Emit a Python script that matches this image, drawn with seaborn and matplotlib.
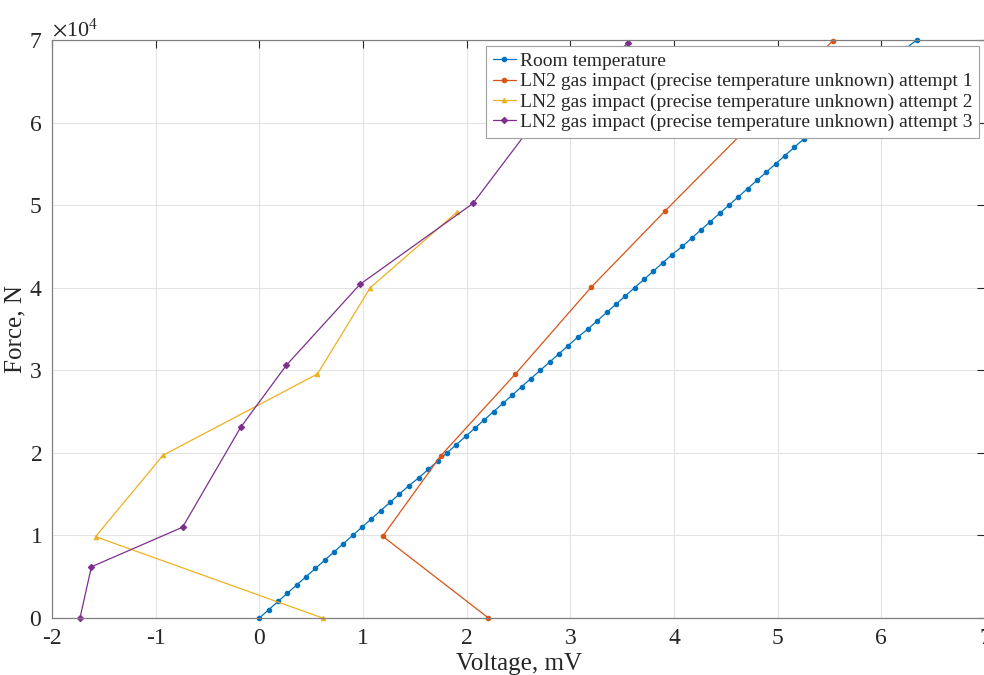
import matplotlib
matplotlib.use("Agg")
import matplotlib.pyplot as plt
import seaborn as sns
from matplotlib.ticker import ScalarFormatter

# Room temperature: one reading every 1000 N
room_force = [0, 1000, 2000, 3000, 4000, 5000, 6000, 7000, 8000, 9000,
              10000, 11000, 12000, 13000, 14000, 15000, 16000, 17000, 18000, 19000,
              20000, 21000, 22000, 23000, 24000, 25000, 26000, 27000, 28000, 29000,
              30000, 31000, 32000, 33000, 34000, 35000, 36000, 37000, 38000, 39000,
              40000, 41000, 42000, 43000, 44000, 45000, 46000, 47000, 48000, 49000,
              50000, 51000, 52000, 53000, 54000, 55000, 56000, 57000, 58000, 59000,
              60000, 61000, 62000, 63000, 64000, 65000, 66000, 67000, 68000, 69000,
              70000]
room_volt = [0.00, 0.09, 0.18, 0.27, 0.36, 0.45, 0.54, 0.63, 0.72, 0.81,
             0.90, 0.99, 1.08, 1.17, 1.26, 1.35, 1.44, 1.54, 1.63, 1.72,
             1.81, 1.90, 1.99, 2.08, 2.17, 2.26, 2.35, 2.44, 2.53, 2.62,
             2.71, 2.80, 2.89, 2.98, 3.07, 3.17, 3.26, 3.35, 3.44, 3.53,
             3.62, 3.71, 3.80, 3.89, 3.98, 4.08, 4.17, 4.26, 4.35, 4.44,
             4.53, 4.62, 4.71, 4.80, 4.89, 4.98, 5.07, 5.16, 5.25, 5.33,
             5.42, 5.51, 5.60, 5.69, 5.78, 5.87, 5.97, 6.06, 6.15, 6.24,
             6.34]

a1_volt = [2.21, 1.19, 1.75, 2.47, 3.20, 3.91, 4.72, 5.53]
a1_force = [0, 9900, 19650, 29550, 40050, 49250, 59500, 69900]

a2_volt = [0.61, -1.58, -0.93, 0.56, 1.07, 1.91]
a2_force = [0, 9850, 19700, 29550, 40000, 49200]

a3_volt = [-1.73, -1.62, -0.74, -0.18, 0.26, 0.97, 2.06, 2.65, 3.56]
a3_force = [0, 6200, 11000, 23100, 30600, 40400, 50200, 60000, 69650]

labels = ["Room temperature",
          "LN2 gas impact (precise temperature unknown) attempt 1",
          "LN2 gas impact (precise temperature unknown) attempt 2",
          "LN2 gas impact (precise temperature unknown) attempt 3"]
colors = ["#0072BD", "#D95319", "#EDB120", "#7E2F8E"]
markers = ["o", "o", "^", "D"]

sns.set_style("white")
plt.rcParams["font.family"] = ["Liberation Serif", "DejaVu Serif"]
plt.rcParams["mathtext.fontset"] = "stix"
plt.rcParams["axes.unicode_minus"] = False

fig = plt.figure(figsize=(9.84, 6.75), dpi=100)
ax = fig.add_axes([52 / 984, 57 / 675, 933 / 984, 578 / 675])

series = [(room_volt, room_force), (a1_volt, a1_force),
          (a2_volt, a2_force), (a3_volt, a3_force)]
for (xv, yv), lab, col, mk in zip(series, labels, colors, markers):
    sns.lineplot(x=xv, y=yv, ax=ax, sort=False, estimator=None, color=col,
                 marker=mk, markersize=3.2, markeredgewidth=0.8,
                 markerfacecolor=col, markeredgecolor=col, linewidth=0.9,
                 label=lab, clip_on=False)

ax.set_xlim(-2, 7)
ax.set_ylim(0, 70000)
ax.set_xticks(range(-2, 8))
ax.set_yticks(range(0, 70001, 10000))
fmt = ScalarFormatter(useMathText=True)
fmt.set_powerlimits((0, 0))
ax.yaxis.set_major_formatter(fmt)
ax.yaxis.get_offset_text().set_fontsize(16)

ax.grid(True, color="#e3e3e3", linewidth=0.8)
ax.tick_params(direction="in", length=6, width=0.8, colors="#262626",
               labelsize=17, top=True, right=True, pad=7)
for s in ax.spines.values():
    s.set_color("#808080")
    s.set_linewidth(0.9)

ax.set_xlabel("Voltage, mV", fontsize=18, labelpad=3)
ax.set_ylabel("Force, N", fontsize=18, labelpad=2)

leg = ax.legend(loc="upper right", fontsize=14, frameon=True, fancybox=False,
                framealpha=1, edgecolor="#a0a0a0", handlelength=1.2,
                handletextpad=0.2, borderpad=0.35, labelspacing=0.13,
                borderaxespad=0.3)
leg.get_frame().set_linewidth(0.8)
leg.set_zorder(10)

fig.savefig("out.png", dpi=100)
